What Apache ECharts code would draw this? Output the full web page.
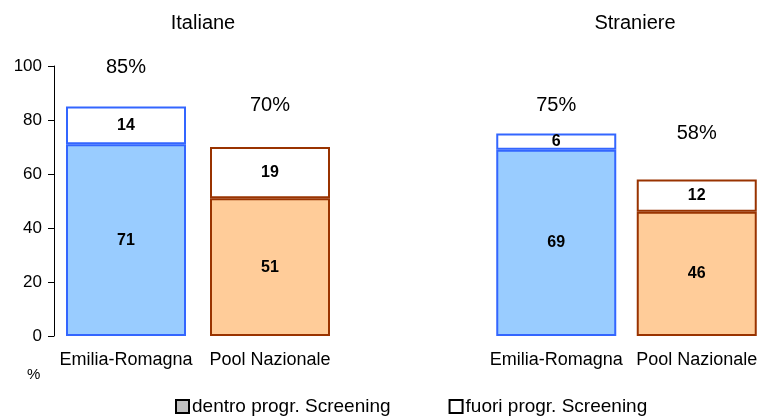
<!doctype html>
<html>
<head>
    <meta charset="utf-8">
    <title>Screening</title>
    <script src="https://cdn.jsdelivr.net/npm/echarts@6/dist/echarts.min.js"></script>
    <style>
        body{
            margin:0;
            padding:0;
            background:#fff;
        }
        #chart{
            width:767px;
            height:419px;
        }
    </style>
</head>
<body>
<div id="chart"></div>
<script>
    // dati
    var groups = ['Italiane', 'Straniere'];
    var categories = ['Emilia-Romagna', 'Pool Nazionale'];
    var dentroItaliane = [71, 51];
    var fuoriItaliane = [14, 19];
    var dentroStraniere = [69, 46];
    var fuoriStraniere = [6, 12];
    var totaliItaliane = [85, 70];
    var totaliStraniere = [75, 58];
    var yMax = 100;
    var yStep = 20;

    // stile
    var fills = ['#99CCFF', '#FFCC99'];
    var borders = ['#3366FF', '#993300'];
    var totalGap = [[29, 32], [18, 36]];   // distanza etichette totale (a mano, come nell'originale)
    var font = 'Liberation Sans, Arial, sans-serif';

    var dentro = [dentroItaliane, dentroStraniere];
    var fuori = [fuoriItaliane, fuoriStraniere];
    var totali = [totaliItaliane, totaliStraniere];

    var grids = [], xAxes = [], yAxes = [], series = [], titles = [];
    var lefts = [54, 486];

    groups.forEach(function (g, gi) {
        grids.push({left: lefts[gi], top: 66, width: 288, height: 270});
        titles.push({
            text: g, left: lefts[gi] + 144, top: 8, textAlign: 'center',
            textStyle: {fontFamily: font, fontSize: 20, fontWeight: 'normal', color: '#000'}
        });
        xAxes.push({
            type: 'category', gridIndex: gi, data: categories,
            axisLine: {show: false}, axisTick: {show: false},
            axisLabel: {color: '#000', fontFamily: font, fontSize: 18, margin: 15, interval: 0}
        });
        yAxes.push({
            type: 'value', gridIndex: gi, min: 0, max: yMax, interval: yStep,
            show: gi === 0,
            splitLine: {show: false},
            axisLine: {show: true, lineStyle: {color: '#000', width: 1}},
            axisTick: {show: true, length: 6, lineStyle: {color: '#000'}},
            axisLabel: {color: '#000', fontFamily: font, fontSize: 17, margin: 12}
        });
        series.push({
            name: 'dentro progr. Screening', type: 'bar', stack: 's' + gi,
            xAxisIndex: gi, yAxisIndex: gi, barWidth: 120,
            itemStyle: {color: '#C0C0C0', borderColor: '#000', borderWidth: 2},
            label: {show: true, position: 'inside', color: '#000', fontFamily: font, fontSize: 16, fontWeight: 'bold'},
            data: dentro[gi].map(function (v, i) {
                return {value: v, itemStyle: {color: fills[i], borderColor: borders[i], borderWidth: 2}};
            })
        });
        series.push({
            name: 'fuori progr. Screening', type: 'bar', stack: 's' + gi,
            xAxisIndex: gi, yAxisIndex: gi, barWidth: 120,
            itemStyle: {color: '#fff', borderColor: '#000', borderWidth: 2},
            label: {show: true, position: 'inside', color: '#000', fontFamily: font, fontSize: 16, fontWeight: 'bold'},
            data: fuori[gi].map(function (v, i) {
                return {value: v, itemStyle: {color: '#fff', borderColor: borders[i], borderWidth: 2}};
            })
        });
        series.push({
            name: 'totale', type: 'scatter', xAxisIndex: gi, yAxisIndex: gi,
            symbolSize: 0, silent: true, z: 5,
            itemStyle: {opacity: 1},
            data: totali[gi].map(function (v, i) {
                return {
                    value: v,
                    label: {show: true, position: 'top', distance: totalGap[gi][i], formatter: '{c}%',
                        color: '#000', opacity: 1, fontFamily: font, fontSize: 20}
                };
            })
        });
    });

    var myChart = echarts.init(document.getElementById('chart'));
    var option = {
        animation: false,
        title: titles,
        grid: grids,
        xAxis: xAxes,
        yAxis: yAxes,
        legend: {
            data: ['dentro progr. Screening', 'fuori progr. Screening'],
            left: 170, top: 392,
            itemWidth: 13, itemHeight: 13, itemGap: 58,
            icon: 'rect',
            textStyle: {color: '#000', fontFamily: font, fontSize: 19, padding: [0, 0, 0, -2]}
        },
        graphic: [{
            type: 'text', left: 27, top: 367,
            style: {text: '%', fill: '#000', font: '15px ' + font}
        }],
        series: series
    };
    myChart.setOption(option, true);
</script>
</body>
</html>
